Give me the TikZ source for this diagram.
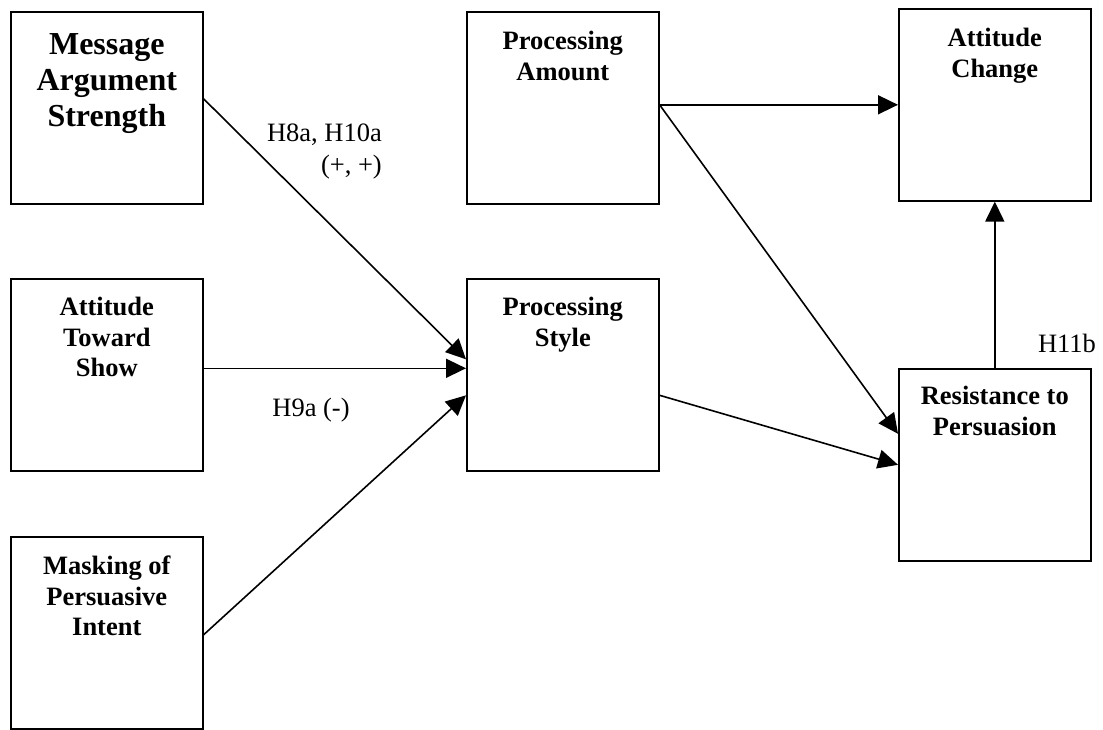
\documentclass[tikz,border=0pt]{standalone}
\usepackage{fontspec}
\setmainfont{Liberation Serif}
\usetikzlibrary{arrows.meta,positioning}
\begin{document}
\begin{tikzpicture}[x=1pt,y=-1pt,>={Triangle[length=20pt,width=19pt]},
  box/.style={draw,line width=1.6pt,minimum width=192pt,minimum height=192pt,anchor=north west,inner sep=0pt},
  boxtext/.style={align=center,inner sep=0pt,font=\fontsize{26.5}{30.5}\selectfont\bfseries},
  hyp/.style={inner sep=0pt,font=\fontsize{26.5}{31.5}\selectfont},
  link/.style={->,line width=1.6pt}]
\useasboundingbox (0,0) rectangle (1103,730);

% the seven constructs
\node[box] (msg)  at (10,11)  {};
\node[box] (show) at (10,278) {};
\node[box] (mask) at (10,536) {};
\node[box] (amt)  at (466,11)  {};
\node[box] (sty)  at (466,278) {};
\node[box] (att)  at (898,8)   {};
\node[box] (res)  at (898,368) {};

\node[boxtext,font=\fontsize{32}{36}\selectfont\bfseries,below=22pt of msg.north] (msgT) {Message\\Argument\\Strength};
\node[boxtext,below=19pt of show.north] (showT) {Attitude\\Toward\\Show};
\node[boxtext,below=20pt of mask.north] (maskT) {Masking of\\Persuasive\\Intent};
\node[boxtext,below=20pt of amt.north] (amtT) {Processing\\Amount};
\node[boxtext,below=19pt of sty.north] (styT) {Processing\\Style};
\node[boxtext,below=20pt of att.north] (attT) {Attitude\\Change};
\node[boxtext,below=18pt of res.north] (resT) {Resistance to\\Persuasion};

% paths
\draw[link] ([yshift=9pt]msg.east) to ([yshift=15.5pt]sty.west);
\draw[link] ([yshift=6.5pt]show.east) to ([yshift=6.5pt]sty.west);
\draw[link] ([yshift=-2pt]mask.east) to ([yshift=-20.5pt]sty.west);
\draw[link] ([yshift=3pt]amt.east) to (att.west);
\draw[link] ([yshift=3pt]amt.east) to ([yshift=31pt]res.west);
\draw[link] ([yshift=-20.5pt]sty.east) to (res.west);
\draw[link] (res.north) to (att.south);

% hypotheses
\node[hyp,align=right,anchor=north east] (h8) at (382,124) {H8a, H10a\\(+, +)};
\node[hyp] (h9) at (311,410) {H9a (-)};
\node[hyp] (h11) at (1067,343) {H11b};
\end{tikzpicture}
\end{document}
